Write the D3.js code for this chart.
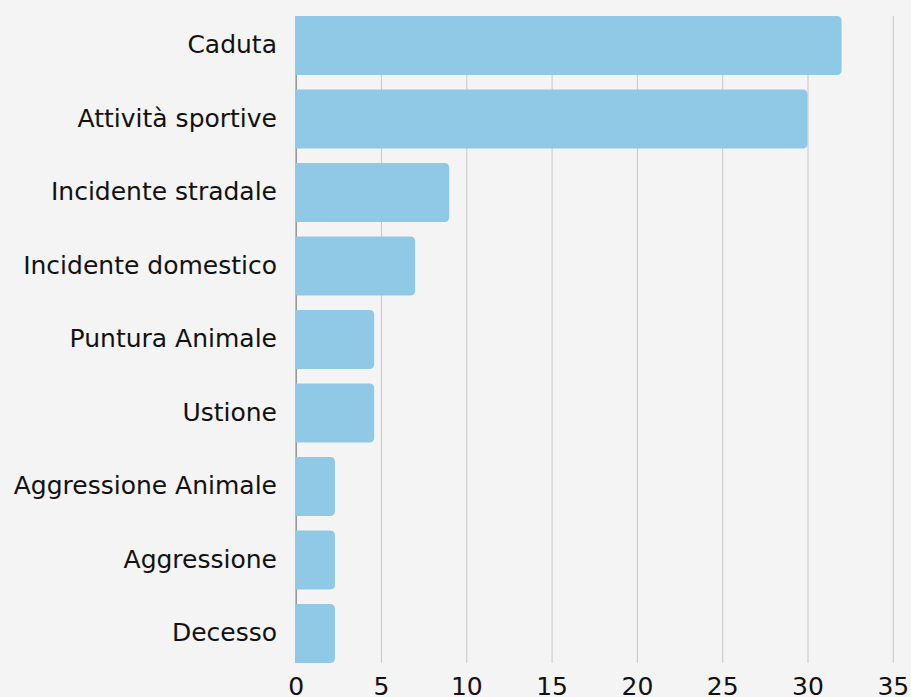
<!DOCTYPE html>
<html>
<head>
<meta charset="utf-8">
<script src="https://cdn.jsdelivr.net/npm/d3@7"></script>
<style>
    html, body { margin: 0; padding: 0; background: #f4f4f4; }
    svg { display: block; }
    text { font-family: "DejaVu Sans", sans-serif; fill: #111; }
</style>
</head>
<body>
<div id="chart"></div>
<script>
const categories = ["Caduta", "Attività sportive", "Incidente stradale", "Incidente domestico",
    "Puntura Animale", "Ustione", "Aggressione Animale", "Aggressione", "Decesso"];
const values = [32, 30, 9, 7, 4.6, 4.6, 2.3, 2.3, 2.3];
const xTicks = [0, 5, 10, 15, 20, 25, 30, 35];

const width = 911, height = 697;

const svg = d3.select("#chart")
    .append("svg")
    .attr("width", width)
    .attr("height", height);

const x = d3.scaleLinear()
    .domain([0, 35])
    .range([295.7, 892.8]);

const y = d3.scaleBand()
    .domain(categories)
    .range([8.75, 670.25])
    .paddingInner(0.2)
    .paddingOuter(0.1);

const gridTop = y(categories[0]);
const gridBottom = y(categories[categories.length - 1]) + y.bandwidth();

// grid + tick labels
const xAxis = svg.append("g")
    .attr("transform", `translate(0, ${gridBottom})`)
    .call(d3.axisBottom(x)
        .tickValues(xTicks)
        .tickSize(-(gridBottom - gridTop))
        .tickPadding(14));

xAxis.select(".domain").remove();
xAxis.selectAll(".tick line")
    .attr("stroke", d => d === 0 ? "#999" : "#c8c8c8")
    .attr("stroke-width", d => d === 0 ? 1.6 : 1);
xAxis.selectAll(".tick text")
    .style("font-family", "'DejaVu Sans', sans-serif")
    .style("font-size", "25px")
    .style("fill", "#111");

// bars with rounded right end
const r = 5;
function barPath(d, i) {
    const x0 = x(0) - 0.7, x1 = x(d);
    const y0 = y(categories[i]), h = y.bandwidth();
    return `M${x0},${y0}H${x1 - r}Q${x1},${y0} ${x1},${y0 + r}V${y0 + h - r}Q${x1},${y0 + h} ${x1 - r},${y0 + h}H${x0}Z`;
}

svg.selectAll(".bar")
    .data(values)
    .enter().append("path")
    .attr("class", "bar")
    .attr("d", barPath)
    .style("fill", "#8fc9e6");

// category labels
svg.selectAll(".label")
    .data(categories)
    .enter().append("text")
    .attr("class", "label")
    .attr("x", 277)
    .attr("y", d => y(d) + y.bandwidth() / 2)
    .attr("dy", "0.3em")
    .attr("text-anchor", "end")
    .style("font-size", "25px")
    .text(d => d);
</script>
</body>
</html>
